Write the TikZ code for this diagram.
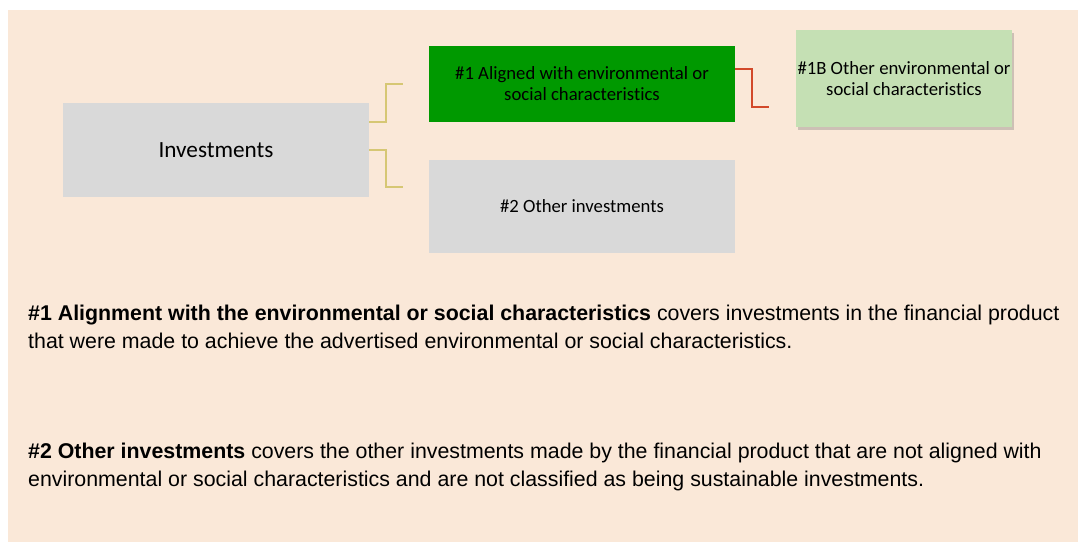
\documentclass[tikz,border=0pt]{standalone}
\usepackage{fontspec}
\setmainfont{Liberation Sans}
\newfontfamily\carlitofont[Ligatures=NoCommon]{Carlito}
\usetikzlibrary{shadows}
\definecolor{peach}{HTML}{FAE8D8}
\definecolor{boxgrey}{HTML}{D9D9D9}
\definecolor{darkgreen}{HTML}{009900}
\definecolor{lightgreen}{HTML}{C5E0B4}
\definecolor{olive}{HTML}{D6C774}
\definecolor{redline}{HTML}{D2492A}
\tikzset{
  box/.style={draw=none, inner sep=0pt, align=center, font=\carlitofont\fontsize{18.7}{21}\selectfont, text=black},
  oline/.style={draw=olive, line width=1.5pt},
  rline/.style={draw=redline, line width=1.8pt},
  body/.style={anchor=base west, inner sep=0pt, font=\fontsize{21.35}{28}\selectfont, text=black}
}
\begin{document}
\begin{tikzpicture}[x=1pt, y=-1pt]
\useasboundingbox (0,0) rectangle (1078,542);
\fill[white] (0,0) rectangle (1078,542);
\fill[peach] (8,10) rectangle (1078,542);
% boxes
\node[box, fill=boxgrey, minimum width=306pt, minimum height=94pt, font=\carlitofont\fontsize{23.2}{27}\selectfont] (inv) at (216,150) {Investments};
\node[box, fill=darkgreen, minimum width=306pt, minimum height=76pt] (a1) at (582,84) {\#1 Aligned with environmental or\\social characteristics};
\node[box, fill=boxgrey, minimum width=306pt, minimum height=93pt] (o2) at (582,206.5) {\#2 Other investments};
\node[box, fill=lightgreen, minimum width=216pt, minimum height=97pt, drop shadow={shadow xshift=2pt, shadow yshift=-3pt, opacity=0.3, fill=black!60}] (b1) at (904,78.5) {\#1B Other environmental or\\social characteristics};
% connectors
\coordinate (c1) at (403,84);
\coordinate (c2) at (403,187);
\coordinate (c3) at (769,107);
\draw[oline] (inv.east |- 0,122) -| (386,84) -- (c1);
\draw[oline] (inv.east |- 0,150) -| (386,187) -- (c2);
\draw[rline] (a1.east |- 0,69) -| (752,107) -- (c3);
% body text
\node[body] (t1) at (28,320) {\textbf{\#1 Alignment with the environmental or social characteristics} covers investments in the financial product};
\node[body] (t2) at (28,348) {that were made to achieve the advertised environmental or social characteristics.};
\node[body] (t3) at (28,458) {\textbf{\#2 Other investments} covers the other investments made by the financial product that are not aligned with};
\node[body] (t4) at (28,486) {environmental or social characteristics and are not classified as being sustainable investments.};
\end{tikzpicture}
\end{document}
